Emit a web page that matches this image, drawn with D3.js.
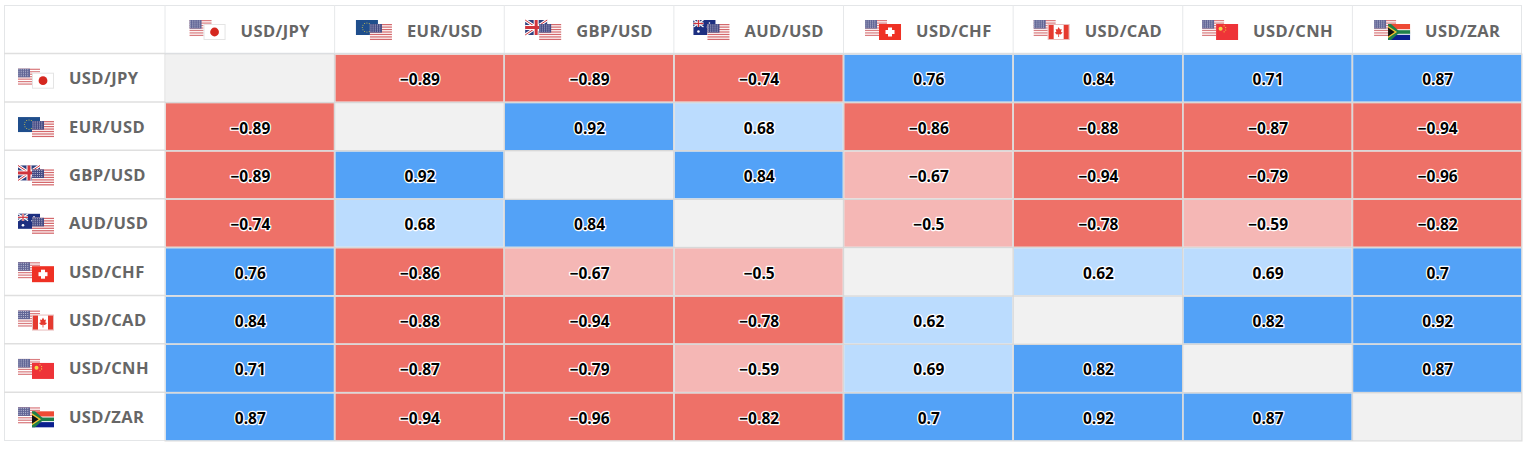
<!DOCTYPE html>
<html><head><meta charset="utf-8">
<script src="https://cdnjs.cloudflare.com/ajax/libs/d3/7.8.5/d3.min.js"></script>
<style>html,body{margin:0;padding:0;background:#fff;overflow:hidden}svg{display:block}
text{font-family:"Open Sans","Noto Sans",sans-serif}</style></head><body>
<script>
const pairs = ["USD/JPY","EUR/USD","GBP/USD","AUD/USD","USD/CHF","USD/CAD","USD/CNH","USD/ZAR"];
const flagCodes = [["us","jp"],["eu","us"],["gb","us"],["au","us"],["us","ch"],["us","ca"],["us","cn"],["us","za"]];
const matrix = [
 [null,-0.89,-0.89,-0.74,0.76,0.84,0.71,0.87],
 [-0.89,null,0.92,0.68,-0.86,-0.88,-0.87,-0.94],
 [-0.89,0.92,null,0.84,-0.67,-0.94,-0.79,-0.96],
 [-0.74,0.68,0.84,null,-0.5,-0.78,-0.59,-0.82],
 [0.76,-0.86,-0.67,-0.5,null,0.62,0.69,0.7],
 [0.84,-0.88,-0.94,-0.78,0.62,null,0.82,0.92],
 [0.71,-0.87,-0.79,-0.59,0.69,0.82,null,0.87],
 [0.87,-0.94,-0.96,-0.82,0.7,0.92,0.87,null]
];
const thresholds = [-0.7,0,0.7];
const palette = ["#ee7168","#f5b7b5","#bbdcfe","#53a2f7"];
const emptyColor = "#f1f1f1";

const W=1530,H=450,left=4,right=1522,top_=5,bottom=441,colStart=165,rowStart=54;
const x=d3.scaleBand().domain(d3.range(8)).range([colStart,right]);
const y=d3.scaleBand().domain(d3.range(8)).range([rowStart,bottom]);
const color=d3.scaleThreshold().domain(thresholds).range(palette);
const svg=d3.select("body").append("svg").attr("width",W).attr("height",H);

function drawFlag(g,code){
  const r=(a,b,c,d,f)=>g.append("rect").attr("x",a).attr("y",b).attr("width",c).attr("height",d).attr("fill",f);
  const p=(pts,f)=>g.append("polygon").attr("points",pts).attr("fill",f);
  const l=(a,b,c,d,s,w)=>g.append("line").attr("x1",a).attr("y1",b).attr("x2",c).attr("y2",d).attr("stroke",s).attr("stroke-width",w);
  const dots=(a,b,c,d,f)=>{for(let i=a+1;i<c;i+=2.2)for(let j=b+1;j<d;j+=2)g.append("circle").attr("cx",i).attr("cy",j).attr("r",.55).attr("fill",f);};
  if(code==="us"){
    r(0,0,22,16,"#fff");
    d3.range(0,16,2.46).forEach(v=>r(0,v,22,1.25,"#d4686c"));
    r(0,0,12,8.6,"#474c84"); dots(0,0,12,8.6,"#c9cbe0");
  } else if(code==="jp"){
    r(0,0,22,16,"#e4e4e4"); r(1,1,20,14,"#fff");
    g.append("circle").attr("cx",11).attr("cy",8).attr("r",4.4).attr("fill","#d5271f");
  } else if(code==="eu"){
    r(0,0,22,15,"#1f4e8c");
    d3.range(12).forEach(i=>g.append("circle").attr("cx",11+4.6*Math.cos(i*Math.PI/6)).attr("cy",7.5+4.6*Math.sin(i*Math.PI/6)).attr("r",.5).attr("fill","#d8c84a"));
  } else if(code==="gb"){
    r(0,0,22,15,"#2d3f7f");
    l(0,0,22,15,"#fff",3);l(22,0,0,15,"#fff",3);l(0,0,22,15,"#d0343c",1);l(22,0,0,15,"#d0343c",1);
    r(8.5,0,5,15,"#fff");r(0,5,22,5,"#fff");r(9.5,0,3,15,"#d0343c");r(0,6,22,3,"#d0343c");
  } else if(code==="au"){
    r(0,0,22,15,"#1d2f80");
    r(0,0,10,7,"#2d3f7f");l(0,0,10,7,"#fff",1.2);l(10,0,0,7,"#fff",1.2);r(3.8,0,2.4,7,"#fff");r(0,2.3,10,2.4,"#fff");r(4.4,0,1.2,7,"#d0343c");r(0,2.9,10,1.2,"#d0343c");
    [[5,11.5,1.3],[16,3,.8],[19,6,.8],[14,7,.8],[16,12,.8]].forEach(s=>g.append("circle").attr("cx",s[0]).attr("cy",s[1]).attr("r",s[2]).attr("fill","#fff"));
  } else if(code==="ch"){
    r(0,0,22,16,"#ef3124"); r(9,3.5,4,9,"#fff"); r(6.5,6,9,4,"#fff");
  } else if(code==="ca"){
    r(0,0,22,16,"#e8bcbc"); r(1,1,20,14,"#fff"); r(1,1,5,14,"#e53a30"); r(16,1,5,14,"#e53a30");
    p("11,3 12.3,5.5 14,5 13.3,8 15,8.5 13,10.5 11.4,10.2 11.4,13 10.6,13 10.6,10.2 9,10.5 7,8.5 8.7,8 8,5 9.7,5.5","#e53a30");
  } else if(code==="cn"){
    r(0,0,22,16,"#ee3338");
    g.append("circle").attr("cx",4.5).attr("cy",4.8).attr("r",2).attr("fill","#f5d545");
    [[8,1.8],[9.6,3.6],[9.6,6],[8,7.8]].forEach(s=>g.append("circle").attr("cx",s[0]).attr("cy",s[1]).attr("r",.6).attr("fill","#f5d545"));
  } else if(code==="za"){
    r(0,0,22,8,"#ee4a35"); r(0,8,22,8,"#0a1f8f");
    r(0,5.2,22,5.6,"#fff"); r(0,6.2,22,3.6,"#1f7f4a");
    p("0,0 3,0 12,8 3,16 0,16","#1f7f4a"); p("0,2 9,8 0,14","#f4c430"); p("0,3.6 6.6,8 0,12.4","#111");
  }
}
function pairFlags(sel,codes,fx,fy){
  const a=sel.append("g").attr("transform",`translate(${fx},${fy})`);
  drawFlag(a,codes[0]);
  if(codes[0]==="us") a.attr("opacity",.85);
  const b=sel.append("g").attr("transform",`translate(${fx+14},${fy+4})`);
  b.append("rect").attr("x",0).attr("y",0).attr("width",22).attr("height",16).attr("fill","#fff");
  drawFlag(b,codes[1]);
}

// Frame and grid
svg.append("rect").attr("x",left+.5).attr("y",top_+.5).attr("width",right-left-1).attr("height",bottom-top_-1).attr("fill","#fff").attr("stroke","#e4e6e8");
svg.append("line").attr("x1",colStart).attr("x2",colStart).attr("y1",top_).attr("y2",rowStart).attr("stroke","#e6e8ea").attr("stroke-width",1);
x.domain().slice(1).forEach(i=>svg.append("line").attr("x1",x(i)).attr("x2",x(i)).attr("y1",top_).attr("y2",rowStart).attr("stroke","#e6e8ea").attr("stroke-width",1));
y.domain().forEach(i=>svg.append("line").attr("x1",left).attr("x2",colStart).attr("y1",y(i)-.5).attr("y2",y(i)-.5).attr("stroke","#dfdfdf").attr("stroke-width",1.5));
svg.append("line").attr("x1",colStart).attr("x2",right).attr("y1",rowStart-.5).attr("y2",rowStart-.5).attr("stroke","#dde1e6").attr("stroke-width",1.5);

// Cells
const cells=matrix.flatMap((row,r)=>row.map((v,c)=>({r,c,v})));
svg.append("g").selectAll("rect").data(cells).join("rect")
  .attr("x",d=>x(d.c)+.75).attr("y",d=>y(d.r)+.75)
  .attr("width",x.bandwidth()-1.5).attr("height",y.bandwidth()-1.5)
  .attr("fill",d=>d.v===null?emptyColor:color(d.v));
svg.append("rect").attr("x",colStart).attr("y",rowStart).attr("width",right-colStart).attr("height",bottom-rowStart).attr("fill","none").attr("stroke","#dcdcdc").attr("stroke-width",1);
x.domain().slice(1).forEach(i=>svg.append("line").attr("x1",x(i)).attr("x2",x(i)).attr("y1",rowStart).attr("y2",bottom).attr("stroke","#d8d8d8").attr("stroke-width",1.5));
y.domain().slice(1).forEach(i=>svg.append("line").attr("x1",colStart).attr("x2",right).attr("y1",y(i)).attr("y2",y(i)).attr("stroke","#d8d8d8").attr("stroke-width",1.5));

// Values with halo
svg.append("g").selectAll("text").data(cells.filter(d=>d.v!==null)).join("text")
  .attr("x",d=>x(d.c)+x.bandwidth()/2+.5).attr("y",d=>y(d.r)+y.bandwidth()/2+1)
  .attr("text-anchor","middle").attr("dominant-baseline","central")
  .attr("font-size",15.5).attr("font-weight",700).attr("fill","#000")
  .attr("stroke","#fff").attr("stroke-width",2.5).attr("stroke-linejoin","round").attr("paint-order","stroke")
  .text(d=>String(d.v).replace("-","\u2212"));

// Headers
const labelStyle=t=>t.attr("font-size",16.5).attr("font-weight",700).attr("fill","#666").attr("dominant-baseline","central").attr("letter-spacing",.4);
pairs.forEach((name,i)=>{
  const g=svg.append("g");
  const t=g.append("text").text(name).call(labelStyle).attr("y",30.5);
  const w=t.node().getComputedTextLength();
  const fx=x(i)+x.bandwidth()/2-(51+w)/2;
  t.attr("x",fx+51);
  pairFlags(g,flagCodes[i],fx,20);
  const g2=svg.append("g");
  g2.append("text").text(name).call(labelStyle).attr("x",69).attr("y",y(i)+y.bandwidth()/2-.5);
  pairFlags(g2,flagCodes[i],18,y(i)+y.bandwidth()/2-9.5);
});
</script></body></html>
